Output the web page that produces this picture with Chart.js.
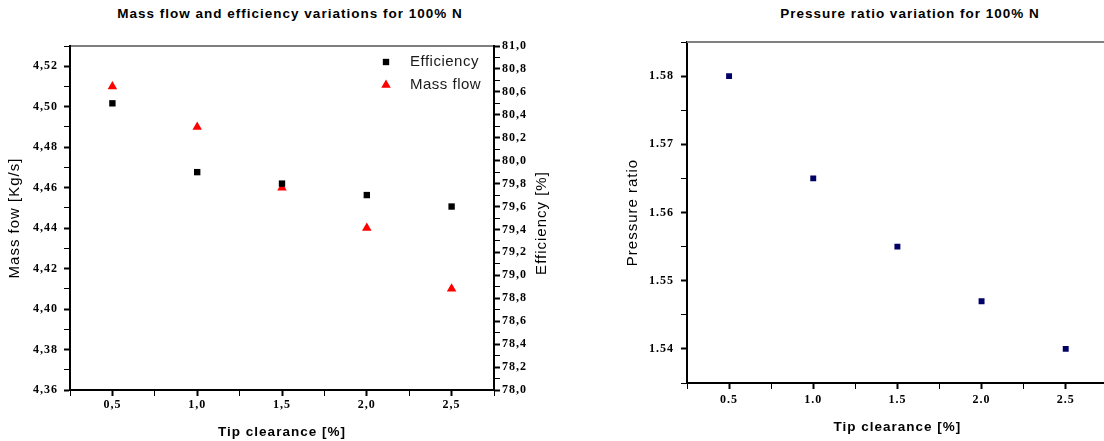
<!DOCTYPE html>
<html>
<head>
<meta charset="utf-8">
<script src="https://cdn.jsdelivr.net/npm/chart.js@4.4.0/dist/chart.umd.min.js"></script>
<style>
  html, body { margin: 0; padding: 0; background: #fff; overflow: hidden; }
  body { width: 1104px; height: 441px; position: relative; }
  canvas { position: absolute; top: 0; }
  #massChart { left: 0; }
  #pressureChart { left: 600px; }
  .chart-title {
    position: absolute; top: 6px; line-height: 18px;
    font: bold 13.5px "Liberation Sans", Arial, sans-serif;
    letter-spacing: 1px; white-space: nowrap; color: #000;
    transform: translateX(-50%);
  }
</style>
</head>
<body>
<div class="chart-title" style="left:290px">Mass flow and efficiency variations for 100% N</div>
<div class="chart-title" style="left:910px">Pressure ratio variation for 100% N</div>
<canvas id="massChart" width="560" height="441"></canvas>
<canvas id="pressureChart" width="512" height="441"></canvas>
<script>
// values
var tipClearance = [0.5, 1.0, 1.5, 2.0, 2.5];
var massFlow = [4.51, 4.49, 4.46, 4.44, 4.41];
var efficiency = [80.5, 79.9, 79.8, 79.7, 79.6];
var pressureRatio = [1.58, 1.565, 1.555, 1.547, 1.54];

var tickFont = { family: '"Liberation Serif", "Times New Roman", serif', weight: 'bold', size: 12 };
var titleFont = { family: '"Liberation Sans", Arial, sans-serif', size: 15 };
var boldTitleFont = { family: '"Liberation Sans", Arial, sans-serif', size: 13.5, weight: 'bold' };

function toPoints(xs, ys) {
  return xs.map(function (x, i) {
    return { x: x, y: ys[i] };
  });
}

// only every n-th step gets a label, the rest are minor ticks
function isMajor(value, perUnit, every) {
  return Math.round(value * perUnit) % every === 0;
}

function tickWidth(c) {
  return c.tick && c.tick.label !== '' ? 2 : 1;
}

function axisGrid() {
  return { drawOnChartArea: false, tickLength: 6, tickColor: '#000', tickWidth: tickWidth };
}

// canvas text gets the same loose spacing as the picture
var spacedText = {
  id: 'spacedText',
  beforeDraw: function (chart) {
    chart.ctx.letterSpacing = '1px';
  }
};

var topLine = {
  id: 'topLine',
  afterDraw: function (chart, args, opts) {
    var a = chart.chartArea;
    var ctx = chart.ctx;
    ctx.save();
    ctx.strokeStyle = opts.color;
    ctx.lineWidth = opts.width;
    ctx.beginPath();
    ctx.moveTo(a.left, a.top);
    ctx.lineTo(a.right, a.top);
    ctx.stroke();
    ctx.restore();
  }
};

var insideLegend = {
  id: 'insideLegend',
  afterDraw: function (chart) {
    var a = chart.chartArea;
    var ctx = chart.ctx;
    ctx.save();
    ctx.font = '15px "Liberation Sans", Arial, sans-serif';
    ctx.letterSpacing = '0.5px';
    ctx.textBaseline = 'middle';
    chart.data.datasets.forEach(function (ds, i) {
      var y = a.top + 16 + i * 23;
      ctx.fillStyle = ds.backgroundColor;
      Chart.helpers.drawPoint(ctx, { pointStyle: ds.pointStyle, radius: ds.pointRadius, borderWidth: 0, rotation: 0 }, a.right - 108, y);
      ctx.fillStyle = '#1a1a1a';
      ctx.fillText(ds.label, a.right - 84, y);
    });
    // right axis title reads bottom to top like the left one
    ctx.font = '15px "Liberation Sans", Arial, sans-serif';
    ctx.letterSpacing = '1px';
    ctx.fillStyle = '#000';
    ctx.textAlign = 'center';
    ctx.translate(chart.width - 18, 223);
    ctx.rotate(-Math.PI / 2);
    ctx.fillText('Efficiency [%]', 0, 0);
    ctx.restore();
  }
};

var massChart = new Chart(document.getElementById('massChart'), {
  type: 'scatter',
  data: {
    datasets: [
      {
        label: 'Efficiency',
        data: toPoints(tipClearance, efficiency),
        yAxisID: 'y1',
        pointStyle: 'rect',
        pointRadius: 4.5,
        pointBorderWidth: 0,
        backgroundColor: '#000'
      },
      {
        label: 'Mass flow',
        data: toPoints(tipClearance, massFlow),
        yAxisID: 'y',
        pointStyle: 'triangle',
        pointRadius: 5.5,
        pointBorderWidth: 0,
        backgroundColor: '#ff0000'
      }
    ]
  },
  options: {
    responsive: false,
    animation: false,
    events: [],
    layout: { padding: { top: 46, left: 0, right: 0, bottom: 0 } },
    plugins: {
      legend: { display: false },
      tooltip: { enabled: false },
      topLine: { color: '#000', width: 1 }
    },
    scales: {
      x: {
        type: 'linear',
        min: 0.25,
        max: 2.75,
        ticks: {
          stepSize: 0.25, autoSkip: false, maxRotation: 0, padding: 2, color: '#000', font: tickFont,
          callback: function (v) { return isMajor(v, 4, 2) ? v.toFixed(1).replace('.', ',') : ''; }
        },
        grid: axisGrid(),
        border: { color: '#000', width: 2 },
        title: { display: true, text: 'Tip clearance [%]', color: '#000', font: boldTitleFont, padding: { top: 0, bottom: 1 } },
        afterFit: function (scale) { scale.height = 51; }
      },
      y: {
        position: 'left',
        min: 4.36,
        max: 4.53,
        ticks: {
          stepSize: 0.01, autoSkip: false, padding: 6, color: '#000', font: tickFont,
          callback: function (v) { return isMajor(v, 100, 2) ? v.toFixed(2).replace('.', ',') : ''; }
        },
        grid: axisGrid(),
        border: { color: '#000', width: 2 },
        title: { display: true, text: 'Mass fow [Kg/s]', color: '#000', font: titleFont, padding: { top: 6, bottom: 0 } },
        afterFit: function (scale) { scale.width = 70; }
      },
      y1: {
        position: 'right',
        min: 78,
        max: 81,
        ticks: {
          stepSize: 0.1, autoSkip: false, padding: 2, color: '#000', font: tickFont,
          callback: function (v) { return isMajor(v, 10, 2) ? v.toFixed(1).replace('.', ',') : ''; }
        },
        grid: axisGrid(),
        border: { color: '#000', width: 2 },
        afterFit: function (scale) { scale.width = 66; }
      }
    }
  },
  plugins: [spacedText, topLine, insideLegend]
});

var pressureChart = new Chart(document.getElementById('pressureChart'), {
  type: 'scatter',
  data: {
    datasets: [
      {
        label: 'Pressure ratio',
        data: toPoints(tipClearance, pressureRatio),
        pointStyle: 'rect',
        pointRadius: 4.2,
        pointBorderWidth: 0,
        backgroundColor: '#000066'
      }
    ]
  },
  options: {
    responsive: false,
    animation: false,
    events: [],
    layout: { padding: { top: 42, left: 0, right: 0, bottom: 0 } },
    plugins: {
      legend: { display: false },
      tooltip: { enabled: false },
      topLine: { color: '#808080', width: 2 }
    },
    scales: {
      x: {
        type: 'linear',
        min: 0.25,
        max: 2.75,
        ticks: {
          stepSize: 0.25, autoSkip: false, maxRotation: 0, padding: 4, color: '#000', font: tickFont,
          callback: function (v) { return isMajor(v, 4, 2) ? v.toFixed(1) : ''; }
        },
        grid: axisGrid(),
        border: { color: '#000', width: 2 },
        title: { display: true, text: 'Tip clearance [%]', color: '#000', font: boldTitleFont, padding: { top: 0, bottom: 6 } },
        afterFit: function (scale) { scale.height = 58; }
      },
      y: {
        min: 1.535,
        max: 1.585,
        ticks: {
          stepSize: 0.005, autoSkip: false, padding: 7, color: '#000', font: tickFont,
          callback: function (v) { return isMajor(v, 1000, 10) ? v.toFixed(2) : ''; }
        },
        grid: axisGrid(),
        border: { color: '#000', width: 2 },
        title: { display: true, text: 'Pressure ratio', color: '#000', font: titleFont, padding: { top: 24, bottom: 0 } },
        afterFit: function (scale) { scale.width = 87; }
      }
    }
  },
  plugins: [spacedText, topLine]
});
</script>
</body>
</html>
